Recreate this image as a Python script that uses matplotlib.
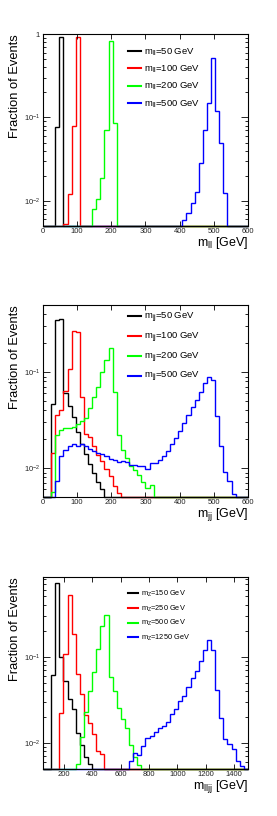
import numpy as np
import matplotlib
matplotlib.use("Agg")
import matplotlib.pyplot as plt
from matplotlib.lines import Line2D
from matplotlib.ticker import FixedLocator, FixedFormatter, LogLocator, NullFormatter, MultipleLocator

plt.rcParams['font.family'] = ['Liberation Sans', 'DejaVu Sans']
plt.rcParams['mathtext.default'] = 'regular'

colors = ['#000000', '#ff0000', '#00ff00', '#0000ff']

# m_ll: 50 bins, 0-600 GeV; first value sits in the bin starting at *_first
mll_edges = np.linspace(0, 600, 51)
mll_labels = ['$m_{ll}$=50 GeV', '$m_{ll}$=100 GeV', '$m_{ll}$=200 GeV', '$m_{ll}$=500 GeV']
mll_first = [36, 60, 144, 408]
mll_50 = [0.077, 0.93]
mll_100 = [0.0053, 0.012, 0.078, 0.91]
mll_200 = [0.0079, 0.0104, 0.0187, 0.071, 0.817, 0.0855]
mll_500 = [0.0059, 0.0071, 0.0094, 0.0129, 0.0288, 0.0698, 0.149, 0.516, 0.118, 0.05, 0.0124]

# m_jj: 50 bins, 0-600 GeV
mjj_edges = np.linspace(0, 600, 51)
mjj_labels = ['$m_{jj}$=50 GeV', '$m_{jj}$=100 GeV', '$m_{jj}$=200 GeV', '$m_{jj}$=500 GeV']
mjj_first = [24, 24, 24, 36]
mjj_50 = [0.047, 0.35, 0.36, 0.06, 0.044, 0.034, 0.024, 0.018, 0.014, 0.011, 0.0088, 0.0072, 0.006]
mjj_100 = [0.0145, 0.036, 0.04, 0.063, 0.107, 0.265, 0.26, 0.055, 0.0225, 0.021, 0.017, 0.0138,
           0.012, 0.0097, 0.0083, 0.0065, 0.0055]
mjj_200 = [0.0056, 0.022, 0.025, 0.026, 0.026, 0.027, 0.029, 0.031, 0.033, 0.042, 0.055, 0.070,
           0.10, 0.135, 0.178, 0.062, 0.022, 0.0155, 0.0127, 0.0105, 0.0096, 0.0085, 0.0072,
           0.0062, 0.0067]
mjj_500 = [0.0074, 0.0135, 0.0155, 0.0172, 0.018, 0.0172, 0.0178, 0.0168, 0.016, 0.0152, 0.0145,
           0.014, 0.0133, 0.0125, 0.0122, 0.0116, 0.0118, 0.0115, 0.0108, 0.0107, 0.0104, 0.0106,
           0.0098, 0.0114, 0.0113, 0.0122, 0.0134, 0.0149, 0.0179, 0.0205, 0.0246, 0.0294, 0.0359,
           0.0438, 0.0514, 0.0628, 0.0767, 0.090, 0.083, 0.035, 0.0168, 0.0092, 0.0073, 0.0054,
           0.0049]

# m_lljj: 50 bins, 50-1500 GeV
mlljj_edges = np.linspace(50, 1500, 51)
mlljj_labels = ['$m_{Z}$=150 GeV', '$m_{Z}$=250 GeV', '$m_{Z}$=500 GeV', '$m_{Z}$=1250 GeV']
mlljj_first = [108, 166, 282, 659]
mlljj_150 = [0.062, 0.72, 0.10, 0.052, 0.032, 0.025, 0.013, 0.0095, 0.0068, 0.0057]
mlljj_250 = [0.022, 0.109, 0.52, 0.183, 0.063, 0.037, 0.021, 0.017, 0.0126, 0.008, 0.0074]
mlljj_500 = [0.0057, 0.0116, 0.0231, 0.0397, 0.0673, 0.123, 0.23, 0.306, 0.0577, 0.0404, 0.0252,
             0.0189, 0.0148, 0.0094, 0.0068, 0.0055]
mlljj_1250 = [0.0062, 0.0077, 0.0072, 0.0093, 0.0113, 0.0121, 0.0136, 0.0149, 0.0156, 0.0173,
              0.0216, 0.0247, 0.0304, 0.0354, 0.0442, 0.0567, 0.069, 0.090, 0.121, 0.155, 0.12,
              0.041, 0.0195, 0.0111, 0.0097, 0.0085, 0.0062, 0.0054, 0.0045]


def draw_panel(ax, edges, firsts, series, labels, xlabel, ylim, xmajor, leg_font, leg_top):
    for first, vals, color in zip(firsts, series, colors):
        h = np.zeros(len(edges) - 1)
        i = int(np.argmin(np.abs(edges - first)))
        h[i:i + len(vals)] = vals
        ax.stairs(np.maximum(h, ylim[0]), edges, color=color, lw=1.0, baseline=None, clip_on=False)

    ax.set_yscale('log')
    ax.set_xlim(edges[0], edges[-1])
    ax.set_ylim(*ylim)
    ax.yaxis.set_major_locator(FixedLocator([0.01, 0.1, 1]))
    ax.yaxis.set_major_formatter(FixedFormatter([r'$10^{-2}$', r'$10^{-1}$', '1']))
    ax.yaxis.set_minor_locator(LogLocator(base=10, subs=np.arange(2, 10) * 1.0, numticks=20))
    ax.yaxis.set_minor_formatter(NullFormatter())
    ax.xaxis.set_major_locator(MultipleLocator(xmajor))

    ax.tick_params(which='both', direction='in', top=True, right=True, width=0.6,
                   labelsize=5.5, colors='#000000', labelcolor='#222222')
    ax.tick_params(axis='y', which='major', length=5, pad=2)
    ax.tick_params(axis='y', which='minor', length=2.5)
    ax.tick_params(axis='x', which='major', length=3.5, pad=1.5)
    for s in ax.spines.values():
        s.set_linewidth(0.8)

    ax.set_ylabel('Fraction of Events', fontsize=9.3, loc='top')
    ax.yaxis.set_label_coords(-0.105, 1.0)
    ax.set_xlabel(xlabel + ' [GeV]', fontsize=9, loc='right')
    ax.xaxis.set_label_coords(1.0, -0.045)

    handles = [Line2D([], [], color=c, lw=1.5) for c in colors]
    ax.legend(handles, labels, loc='upper left', bbox_to_anchor=(0.415, leg_top), frameon=False,
              fontsize=leg_font, handlelength=1.35, handletextpad=0.35, labelspacing=0.6,
              borderaxespad=0, borderpad=0)


fig = plt.figure(figsize=(2.77, 8.16), dpi=100)
ax1 = fig.add_axes([0.1552, 0.7230, 0.740, 0.2353])
ax2 = fig.add_axes([0.1552, 0.3909, 0.740, 0.2353])
ax3 = fig.add_axes([0.1552, 0.0576, 0.740, 0.2353])

draw_panel(ax1, mll_edges, mll_first, [mll_50, mll_100, mll_200, mll_500], mll_labels,
           '$m_{ll}$', (0.005, 1.0), 100, 6.8, 0.935)
draw_panel(ax2, mjj_edges, mjj_first, [mjj_50, mjj_100, mjj_200, mjj_500], mjj_labels,
           '$m_{jj}$', (0.005, 0.5), 100, 6.8, 0.969)
draw_panel(ax3, mlljj_edges, mlljj_first, [mlljj_150, mlljj_250, mlljj_500, mlljj_1250], mlljj_labels,
           '$m_{lljj}$', (0.005, 0.84), 200, 5.3, 0.9375)

fig.savefig('out.png', dpi=100)
